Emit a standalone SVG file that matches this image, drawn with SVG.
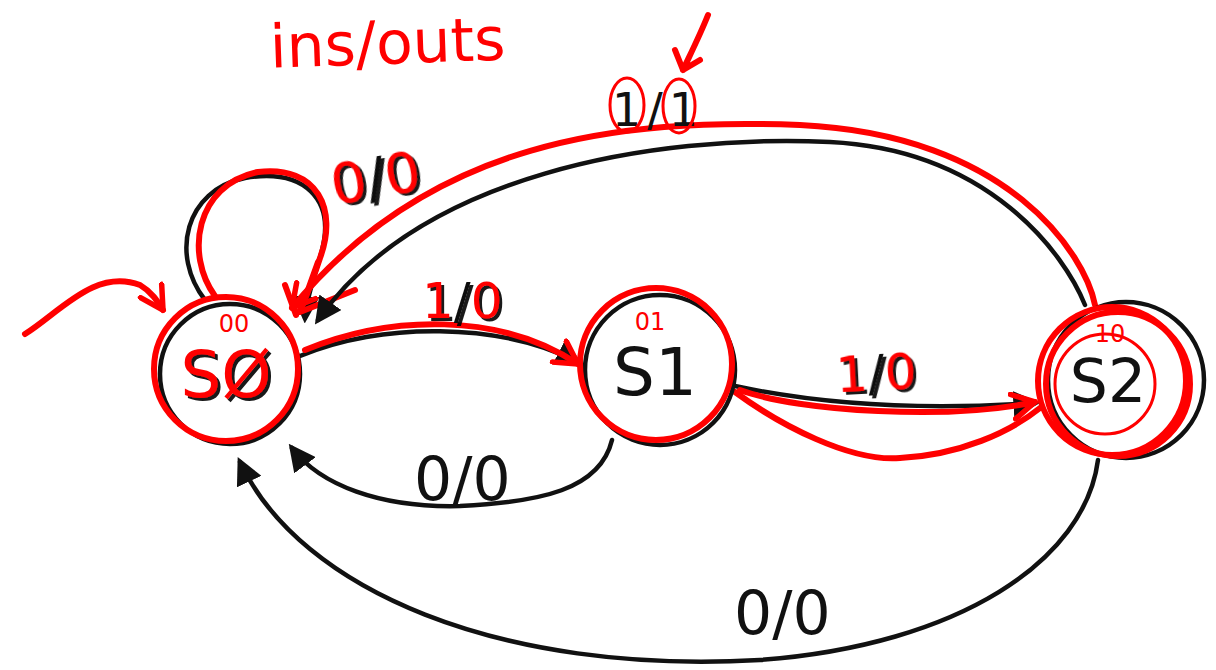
<svg xmlns="http://www.w3.org/2000/svg" width="1216" height="670" viewBox="0 0 1216 670">
<style>
.bk{fill:none;stroke:#111;stroke-width:4.5;stroke-linecap:round;stroke-linejoin:round}
.rd{fill:none;stroke:#f00;stroke-width:6;stroke-linecap:round;stroke-linejoin:round}
.rdt{fill:none;stroke:#f00;stroke-width:3;stroke-linecap:round}
.lbl{font-family:"DejaVu Sans","Liberation Sans",sans-serif;fill:#111}
.r{fill:#f00}
.sh{filter:url(#shadow)}
</style>
<defs>
<filter id="shadow" x="-20%" y="-20%" width="140%" height="140%">
<feDropShadow dx="3" dy="3" stdDeviation="0.6" flood-color="#000" flood-opacity="0.9"/>
</filter>
<marker id="ab" viewBox="0 0 10 10" refX="8" refY="5" markerWidth="6" markerHeight="6" orient="auto" markerUnits="strokeWidth">
<path d="M0,0 L10,5 L0,10 Z" fill="#111"/>
</marker>
<marker id="ar" viewBox="0 0 12 12" refX="10" refY="6" markerWidth="5" markerHeight="5" orient="auto" markerUnits="strokeWidth">
<path d="M1,1 L10,6 L1,11" fill="none" stroke="#f00" stroke-width="2.2" stroke-linecap="round" stroke-linejoin="round"/>
</marker>
</defs>
<rect width="1216" height="670" fill="#fff"/>

<text class="lbl" x="270" y="64" font-size="60" style="fill:#f00" transform="rotate(-2 380 50)">ins/outs</text>

<g id="connectors">
<!-- self loop S0 -->
<path class="bk" d="M205 300 C170 255 185 190 245 178 C305 168 335 200 322 250 C314 280 306 298 305 318" marker-end="url(#ab)"/>
<path class="rd" d="M215 296 C185 255 195 185 258 172 C318 165 338 210 320 258 C312 282 305 300 300 310"/>
<path class="rd" d="M300 312 L355 290 M300 312 L318 262 M296 315 L285 285"/>
<!-- S2 -> S0 top arc -->
<path class="bk" d="M1085 305 C1065 255 990 150 830 142 C650 134 420 175 318 320" marker-end="url(#ab)"/>
<path class="rd" d="M1095 305 C1085 255 1010 135 800 125 C620 118 430 140 292 308" marker-end="url(#ar)"/>
<!-- S0 -> S1 -->
<path class="bk" d="M300 356 C380 322 500 322 578 362" marker-end="url(#ab)"/>
<path class="rd" d="M305 350 C390 315 500 312 578 364" marker-end="url(#ar)"/>
<!-- S1 -> S2 -->
<path class="bk" d="M735 386 C800 400 900 412 1035 403" marker-end="url(#ab)"/>
<path class="rd" d="M740 390 C800 412 950 420 1035 402" marker-end="url(#ar)"/>
<path class="rd" d="M735 392 C780 425 850 462 900 458 C960 455 1010 432 1040 408"/>
<!-- S1 -> S0 bottom -->
<path class="bk" d="M612 440 C600 490 540 502 460 506 C380 508 320 485 292 448" marker-end="url(#ab)"/>
<!-- S2 -> S0 big bottom -->
<path class="bk" d="M1098 460 C1085 560 960 645 760 660 C500 675 300 590 240 462" marker-end="url(#ab)"/>
<!-- initial -->
<path class="rd" stroke-width="9" d="M25 334 C60 312 95 268 140 285 C152 292 158 302 163 310" marker-end="url(#ar)"/>
<!-- pointer arrow at 1/1 -->
<path class="rd" d="M708 15 C700 35 690 55 683 70 M683 70 L675 50 M683 70 L700 60"/>
</g>

<g id="labels">
<text class="lbl sh" x="330" y="196" font-size="56" transform="rotate(-10 380 175)"><tspan class="r">0</tspan>/<tspan class="r">0</tspan></text>
<g id="lbl11">
<text class="lbl" x="612" y="126" font-size="46" letter-spacing="6">1/1</text>
<ellipse class="rdt" cx="627" cy="105" rx="17" ry="27"/>
<ellipse class="rdt" cx="679" cy="106" rx="16" ry="27"/>
</g>
<text class="lbl sh" x="422" y="318" font-size="50"><tspan class="r">1</tspan>/<tspan class="r">0</tspan></text>
<text class="lbl sh" x="836" y="390" font-size="50" transform="rotate(-3 880 375)"><tspan class="r">1</tspan>/<tspan class="r">0</tspan></text>
<text class="lbl" x="414" y="500" font-size="60">0/0</text>
<text class="lbl" x="734" y="634" font-size="60">0/0</text>
</g>

<g id="S0">
<circle class="bk" cx="230" cy="374" r="70"/>
<circle class="rd" cx="226" cy="369" r="72" stroke-width="8"/>
<text class="lbl sh" x="226" y="397" font-size="64" text-anchor="middle" style="fill:#f00">SØ</text>
<text class="lbl" x="234" y="332" font-size="24" text-anchor="middle" style="fill:#f00">00</text>
</g>
<g id="S1">
<circle class="bk" cx="660" cy="370" r="75"/>
<circle class="rd" cx="656" cy="364" r="76" stroke-width="8"/>
<text class="lbl" x="655" y="395" font-size="66" text-anchor="middle">S1</text>
<text class="lbl" x="650" y="330" font-size="24" text-anchor="middle" style="fill:#f00">01</text>
</g>
<g id="S2">
<circle class="bk" cx="1126" cy="380" r="78"/>
<circle class="rd" cx="1112" cy="381" r="74" stroke-width="7"/>
<circle class="rd" cx="1118" cy="384" r="72" stroke-width="5"/>
<circle class="rdt" cx="1105" cy="384" r="50"/>
<text class="lbl" x="1108" y="402" font-size="60" text-anchor="middle">S2</text>
<text class="lbl" x="1110" y="342" font-size="24" text-anchor="middle" style="fill:#f00">10</text>
</g>
</svg>
